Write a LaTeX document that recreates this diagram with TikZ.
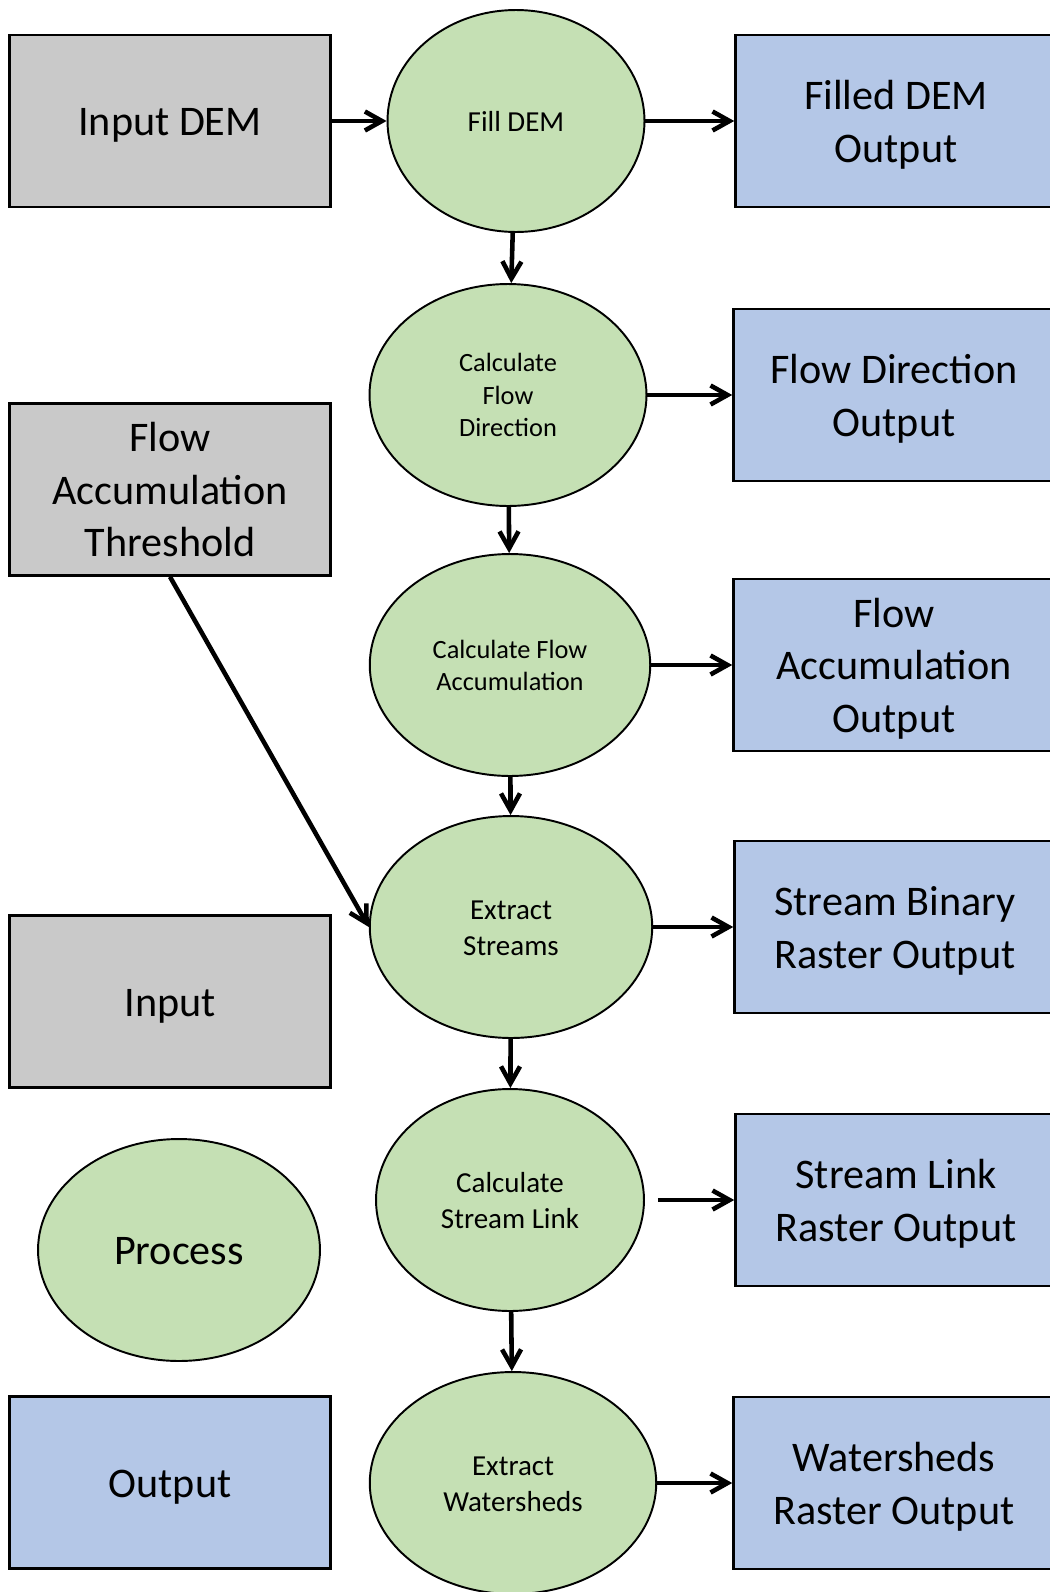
\documentclass[tikz,border=0pt]{standalone}
\usepackage{fontspec}
\setmainfont{Carlito}
\usetikzlibrary{shapes.geometric,arrows.meta}

\definecolor{inputgray}{HTML}{C9C9C9}
\definecolor{procgreen}{HTML}{C5E0B4}
\definecolor{outblue}{HTML}{B4C7E7}

\tikzset{
  % struts on first and last line, so the text sits where the reference has it
  struts/.style={execute at begin node={\rule{0pt}{0.97em}},
    execute at end node={\rule[-0.27em]{0pt}{0.27em}}},
  databox/.style={draw, line width=1.5pt, minimum width=6.42cm, minimum height=3.44cm,
    text width=6cm, align=flush center, inner sep=0pt, font=\fontsize{24}{30}\selectfont, struts},
  inbox/.style={databox, fill=inputgray},
  outbox/.style={databox, fill=outblue},
  proc/.style={ellipse, draw, line width=1.1pt, fill=procgreen, inner sep=0pt,
    minimum height=4.44cm, text width=3.3cm, align=flush center,
    font=\fontsize{16.5}{20.6}\selectfont, struts},
  procsmall/.style={proc, font=\fontsize{15}{18.4}\selectfont},
  flow/.style={line width=2.6pt, -{Straight Barb[length=3.4mm,width=3.8mm]}}
}

\begin{document}
\begin{tikzpicture}[x=0.02cm, y=-0.02cm]
\useasboundingbox (0,0) rectangle (1050,1592);
\clip (0,0) rectangle (1050,1592);

% inputs and legend
\node[inbox] (dem) at (170,121) {Input DEM};
\node[inbox] (threshold) at (170,489.5) {Flow\\Accumulation\\Threshold};
\node[inbox] (leginput) at (170,1001.5) {Input};
\node[proc, minimum width=5.64cm, font=\fontsize{24}{30}\selectfont] (legprocess) at (179,1250) {Process};
\node[outbox] (legoutput) at (170,1482.5) {Output};

% processes
\node[proc, minimum width=5.14cm] (fill) at (516,121) {Fill DEM};
\node[procsmall, minimum width=5.54cm] (flowdir) at (508,395) {Calculate\\Flow\\Direction};
\node[procsmall, minimum width=5.61cm] (flowacc) at (510,665) {Calculate Flow\\Accumulation};
\node[proc, minimum width=5.65cm] (streams) at (511,927) {Extract\\Streams};
\node[proc, minimum width=5.36cm] (link) at (510,1200) {Calculate\\Stream Link};
\node[proc, minimum width=5.73cm] (watersheds) at (513,1483) {Extract\\Watersheds};

% outputs
\node[outbox] (filledout) at (896,121) {Filled DEM\\Output};
\node[outbox] (flowdirout) at (894,395) {Flow Direction\\Output};
\node[outbox] (flowaccout) at (894,665) {Flow\\Accumulation\\Output};
\node[outbox] (binaryout) at (895,927) {Stream Binary\\Raster Output};
\node[outbox] (linkout) at (896,1200) {Stream Link\\Raster Output};
\node[outbox] (watershedsout) at (894,1483) {Watersheds\\Raster Output};

% connectors
\draw[flow] (dem) -- (fill);
\foreach \a/\b in {fill/flowdir, flowdir/flowacc, flowacc/streams, streams/link, link/watersheds}
  \draw[flow] (\a) -- (\b);
\foreach \a/\b in {fill/filledout, flowdir/flowdirout, flowacc/flowaccout, streams/binaryout, watersheds/watershedsout}
  \draw[flow] (\a) -- (\b);
\draw[flow, shorten <=0.26cm] (link) -- (linkout);
\draw[flow] (threshold.south) -- (streams.west);
\end{tikzpicture}
\end{document}
